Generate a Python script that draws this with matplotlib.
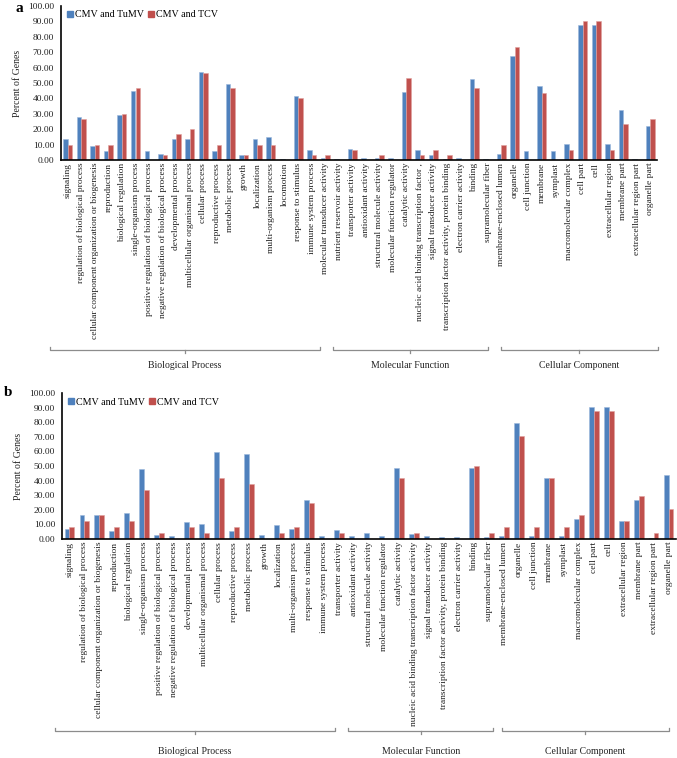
import matplotlib
matplotlib.use("Agg")
import matplotlib.pyplot as plt
from matplotlib.patches import Patch
from matplotlib.transforms import blended_transform_factory
import numpy as np

plt.rcParams['font.family'] = ['Liberation Serif', 'DejaVu Serif']

# ---- panel a data ----
a_categories = [
    "signaling", "regulation of biological process",
    "cellular component organization or biogenesis", "reproduction",
    "biological regulation", "single-organism process",
    "positive regulation of biological process",
    "negative regulation of biological process", "developmental process",
    "multicellular organismal process", "cellular process",
    "reproductive process", "metabolic process", "growth", "localization",
    "multi-organism process", "locomotion", "response to stimulus",
    "immune system process", "molecular transducer activity",
    "nutrient reservoir activity", "transporter activity",
    "antioxidant activity", "structural molecule activity",
    "molecular function regulator", "catalytic activity",
    "nucleic acid binding transcription factor ,",
    "signal transducer activity",
    "transcription factor activity, protein binding",
    "electron carrier activity", "binding", "supramolecular fiber",
    "membrane-enclosed lumen", "organelle", "cell junction", "membrane",
    "symplast", "macromolecular complex", "cell part", "cell",
    "extracellular region", "membrane part", "extracellular region part",
    "organelle part",
]
a_tumv = [13.8, 27.6, 9.3, 5.6, 29.3, 44.8, 5.6, 4.0, 13.8, 13.8, 56.9, 5.6,
          49.1, 3.4, 13.8, 14.8, 0.4, 41.4, 6.2, 1.3, 0.4, 6.9, 1.1, 1.3, 1.3,
          44.0, 6.2, 3.0, 0.4, 1.1, 52.6, 0.4, 4.0, 67.6, 5.6, 48.3, 5.6,
          10.3, 87.9, 87.9, 10.3, 32.4, 0.4, 22.4]
a_tcv = [10.0, 26.7, 10.0, 10.0, 30.0, 46.7, 0, 3.3, 16.7, 20.0, 56.7, 10.0,
         46.7, 3.3, 10.0, 10.0, 0, 40.0, 3.3, 3.3, 0, 6.7, 0, 3.3, 0, 53.3,
         3.3, 6.7, 3.3, 0, 46.7, 0, 10.0, 73.3, 0, 43.3, 0, 6.7, 90.0, 90.0,
         6.7, 23.3, 0, 26.7]
# group brackets (start, end) in category units
a_groups = [("Biological Process", -1.3, 18.6),
            ("Molecular Function", 19.6, 31.0),
            ("Cellular Component", 31.95, 43.6)]

# ---- panel b data ----
b_categories = [
    "signaling", "regulation of biological process",
    "cellular component organization or biogenesis", "reproduction",
    "biological regulation", "single-organism process",
    "positive regulation of biological process",
    "negative regulation of biological process", "developmental process",
    "multicellular organismal process", "cellular process",
    "reproductive process", "metabolic process", "growth", "localization",
    "multi-organism process", "response to stimulus",
    "immune system process", "transporter activity", "antioxidant activity",
    "structural molecule activity", "molecular function regulator",
    "catalytic activity",
    "nucleic acid binding transcription factor activity",
    "signal transducer activity",
    "transcription factor activity, protein binding",
    "electron carrier activity", "binding", "supramolecular fiber",
    "membrane-enclosed lumen", "organelle", "cell junction", "membrane",
    "symplast", "macromolecular complex", "cell part", "cell",
    "extracellular region", "membrane part", "extracellular region part",
    "organelle part",
]
b_tumv = [7.0, 16.6, 16.1, 5.7, 17.7, 48.0, 2.7, 2.3, 11.6, 10.5, 59.3, 5.7,
          58.4, 2.7, 9.8, 7.0, 26.4, 1.8, 6.4, 1.8, 4.1, 2.0, 48.6, 3.2, 1.8,
          1.4, 1.1, 48.9, 1.4, 2.0, 79.3, 2.0, 41.8, 2.0, 13.4, 90.2, 90.2,
          12.3, 26.8, 0.7, 43.6]
b_tcv = [8.33, 12.5, 16.67, 8.33, 12.5, 33.33, 4.17, 0, 8.33, 4.17, 41.67,
         8.33, 37.5, 0, 4.17, 8.33, 25.0, 0, 4.17, 0, 0, 0, 41.67, 4.17, 0, 0,
         0, 50.0, 4.17, 8.33, 70.83, 8.33, 41.67, 8.33, 16.67, 87.5, 87.5,
         12.5, 29.17, 4.17, 20.83]
b_groups = [("Biological Process", -1.0, 17.7),
            ("Molecular Function", 18.6, 28.3),
            ("Cellular Component", 28.9, 40.0)]

BLUE = '#4f81bd'
RED = '#c0504d'
W, H = 677, 758


def draw_panel(rect, cats, tumv, tcv, groups, letter, letter_xy,
               brace_y, label_y):
    ax = fig.add_axes(rect)
    x = np.arange(len(cats))
    bw = 0.33
    ax.bar(x - bw / 2, tumv, bw, color=BLUE, edgecolor='#9db8dc',
           linewidth=0.4, label='CMV and TuMV')
    ax.bar(x + bw / 2, tcv, bw, color=RED, edgecolor='#e0a09e',
           linewidth=0.4, label='CMV and TCV')
    ax.set_xlim(-0.5, len(cats) - 0.5)
    ax.set_ylim(0, 100)
    ax.set_yticks(np.arange(0, 101, 10))
    ax.set_yticklabels([f"{v:.2f}" for v in range(0, 101, 10)])
    ax.set_xticks(x)
    ax.set_xticklabels(cats, rotation=90, fontsize=6.8, color='#222222')
    ax.tick_params(axis='both', length=0)
    ax.tick_params(axis='y', labelsize=6.8, pad=5, colors='#222222')
    ax.tick_params(axis='x', pad=2)
    for s in ('top', 'right'):
        ax.spines[s].set_visible(False)
    ax.spines['left'].set_linewidth(1.2)
    ax.spines['bottom'].set_linewidth(1.2)
    ax.set_ylabel('Percent of Genes', fontsize=7, color='#222222',
                  labelpad=4)
    handles = [Patch(color=BLUE), Patch(color=RED)]
    ax.legend(handles, ['CMV and TuMV', 'CMV and TCV'], loc='upper left',
              bbox_to_anchor=(0.0, 1.01), ncol=2, frameon=False,
              fontsize=7.2, handlelength=0.6, handleheight=0.6,
              handletextpad=0.2, columnspacing=0.4, borderaxespad=0.2)
    # group brackets below the labels
    tr = blended_transform_factory(ax.transData, ax.transAxes)
    hook = 0.02
    for name, x0, x1 in groups:
        xm = (x0 + x1) / 2
        ax.plot([x0, x0, x1, x1], [brace_y + hook, brace_y, brace_y,
                                   brace_y + hook],
                transform=tr, clip_on=False, color='#8c8c8c', lw=0.9)
        ax.plot([xm, xm], [brace_y, brace_y - hook], transform=tr,
                clip_on=False, color='#8c8c8c', lw=0.9)
        ax.text(xm, label_y, name, transform=tr, ha='center', va='center',
                fontsize=7, color='#222222')
    fig.text(letter_xy[0] / W, 1 - letter_xy[1] / H, letter, fontsize=11,
             fontweight='bold', ha='left', va='center')
    return ax


fig = plt.figure(figsize=(W / 100, H / 100), dpi=100)

# panel a: axis from x=61..657 px, y=6..160 px
draw_panel([61 / W, 1 - 160 / H, (657 - 61) / W, 154 / H],
           a_categories, a_tumv, a_tcv, a_groups, 'a', (15, 9),
           brace_y=(160 - 350) / 154, label_y=(160 - 366) / 154)

# panel b: axis from x=62..677 px, y=393..539 px
draw_panel([62 / W, 1 - 539 / H, (676 - 62) / W, 146 / H],
           b_categories, b_tumv, b_tcv, b_groups, 'b', (4, 392),
           brace_y=(539 - 731) / 146, label_y=(539 - 751) / 146)

fig.savefig('out.png', dpi=100)
